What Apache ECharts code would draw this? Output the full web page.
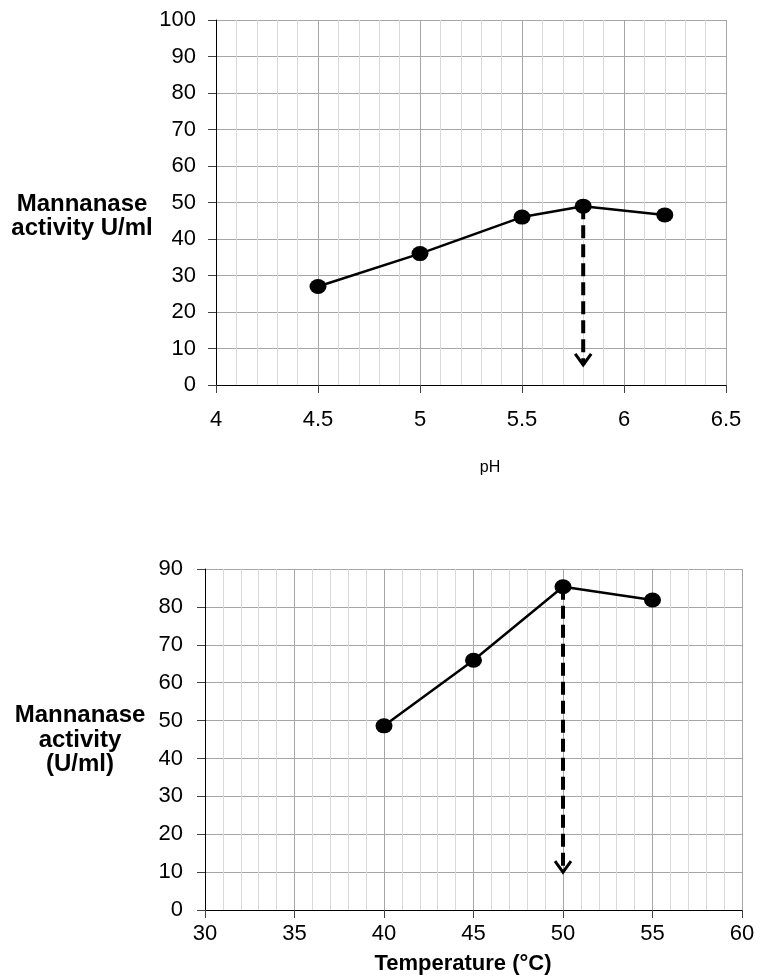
<!DOCTYPE html>
<html>
<head>
<meta charset="utf-8">
<script src="https://cdn.jsdelivr.net/npm/echarts@6/dist/echarts.min.js"></script>
<style>html,body{margin:0;padding:0;background:#fff;}#c{width:761px;height:978px;}</style>
</head>
<body>
<div id="c"></div>
<script>
// ---- data ----
const phX = [4.5, 5, 5.5, 5.8, 6.2];
const phY = [27, 36, 46, 49, 46.6];
const phArrowX = [5.8, 5.8];
const phArrowY = [49, 5.5];

const tempX = [40, 45, 50, 55];
const tempY = [48.6, 65.9, 85.3, 81.8];
const tempArrowX = [50, 50];
const tempArrowY = [85.3, 10];

const phYName = 'Mannanase\nactivity U/ml';
const phXName = 'pH';
const tempYName = 'Mannanase\nactivity\n(U/ml)';
const tempXName = 'Temperature (°C)';

const zip = (a, b) => a.map((v, i) => [v, b[i]]);

const FONT = 'Liberation Sans, Arial, sans-serif';
const majorGrid = '#a6a6a6';
const minorGrid = '#d9d9d9';
const TICK_FS = 22;

function xAxisCfg(gridIndex, min, max, interval, margin) {
  return {
    type: 'value', gridIndex, min, max, interval,
    axisLine: { show: true, onZero: false, lineStyle: { color: '#000', width: 1 } },
    axisTick: { show: true, length: 8, lineStyle: { color: '#404040' } },
    axisLabel: { color: '#000', fontSize: TICK_FS, fontFamily: FONT, margin },
    splitLine: { show: true, lineStyle: { color: majorGrid, width: 1 } },
    minorTick: { show: false, splitNumber: 5 },
    minorSplitLine: { show: true, lineStyle: { color: minorGrid, width: 1 } }
  };
}
function yAxisCfg(gridIndex, min, max, interval, margin) {
  return {
    type: 'value', gridIndex, min, max, interval,
    axisLine: { show: true, onZero: false, lineStyle: { color: '#000', width: 1 } },
    axisTick: { show: true, length: 8, lineStyle: { color: '#404040' } },
    axisLabel: { color: '#000', fontSize: TICK_FS, fontFamily: FONT, margin },
    splitLine: { show: true, lineStyle: { color: majorGrid, width: 1 } }
  };
}

function arrowHead(xIdx, yIdx, tipX, tipY) {
  return {
    type: 'custom', xAxisIndex: xIdx, yAxisIndex: yIdx, silent: true, z: 4,
    data: [[tipX, tipY]],
    renderItem: function (params, api) {
      const p = api.coord([api.value(0), api.value(1)]);
      return {
        type: 'polyline',
        shape: { points: [[p[0] - 8, p[1] - 11], [p[0], p[1]], [p[0] + 8, p[1] - 11]] },
        style: { stroke: '#000', lineWidth: 3, fill: null }
      };
    }
  };
}

const option = {
  animation: false,
  backgroundColor: '#fff',
  grid: [
    { left: 216, top: 20, width: 510, height: 365, containLabel: false },
    { left: 205, top: 569, width: 537, height: 341, containLabel: false }
  ],
  xAxis: [
    xAxisCfg(0, 4, 6.5, 0.5, 24),
    xAxisCfg(1, 30, 60, 5, 13)
  ],
  yAxis: [
    yAxisCfg(0, 0, 100, 10, 20),
    yAxisCfg(1, 0, 90, 10, 22)
  ],
  graphic: [
    { type: 'text', x: 82, y: 216, style: { text: phYName, font: 'bold 24px ' + FONT, fill: '#000', align: 'center', verticalAlign: 'middle', lineHeight: 24 } },
    { type: 'text', x: 490, y: 468, style: { text: phXName, font: '16px ' + FONT, fill: '#000', align: 'center', verticalAlign: 'middle' } },
    { type: 'text', x: 80, y: 740, style: { text: tempYName, font: 'bold 24px ' + FONT, fill: '#000', align: 'center', verticalAlign: 'middle', lineHeight: 24.5 } },
    { type: 'text', x: 463, y: 964, style: { text: tempXName, font: 'bold 22px ' + FONT, fill: '#000', align: 'center', verticalAlign: 'middle' } }
  ],
  series: [
    {
      type: 'line', xAxisIndex: 0, yAxisIndex: 0, data: zip(phX, phY),
      symbol: 'circle', symbolSize: [17, 15], z: 5,
      lineStyle: { color: '#000', width: 2.5 }, itemStyle: { color: '#000' }
    },
    {
      type: 'line', xAxisIndex: 0, yAxisIndex: 0, data: zip(phArrowX, phArrowY),
      symbol: 'none', z: 3, silent: true,
      lineStyle: { color: '#000', width: 4, type: [13, 6] }
    },
    arrowHead(0, 0, phArrowX[1], phArrowY[1]),
    {
      type: 'line', xAxisIndex: 1, yAxisIndex: 1, data: zip(tempX, tempY),
      symbol: 'circle', symbolSize: [17, 15], z: 5,
      lineStyle: { color: '#000', width: 2.5 }, itemStyle: { color: '#000' }
    },
    {
      type: 'line', xAxisIndex: 1, yAxisIndex: 1, data: zip(tempArrowX, tempArrowY),
      symbol: 'none', z: 3, silent: true,
      lineStyle: { color: '#000', width: 4, type: [13, 6] }
    },
    arrowHead(1, 1, tempArrowX[1], tempArrowY[1])
  ]
};
const chart = echarts.init(document.getElementById('c'), null, { renderer: 'canvas' });
chart.setOption(option);
</script>
</body>
</html>
